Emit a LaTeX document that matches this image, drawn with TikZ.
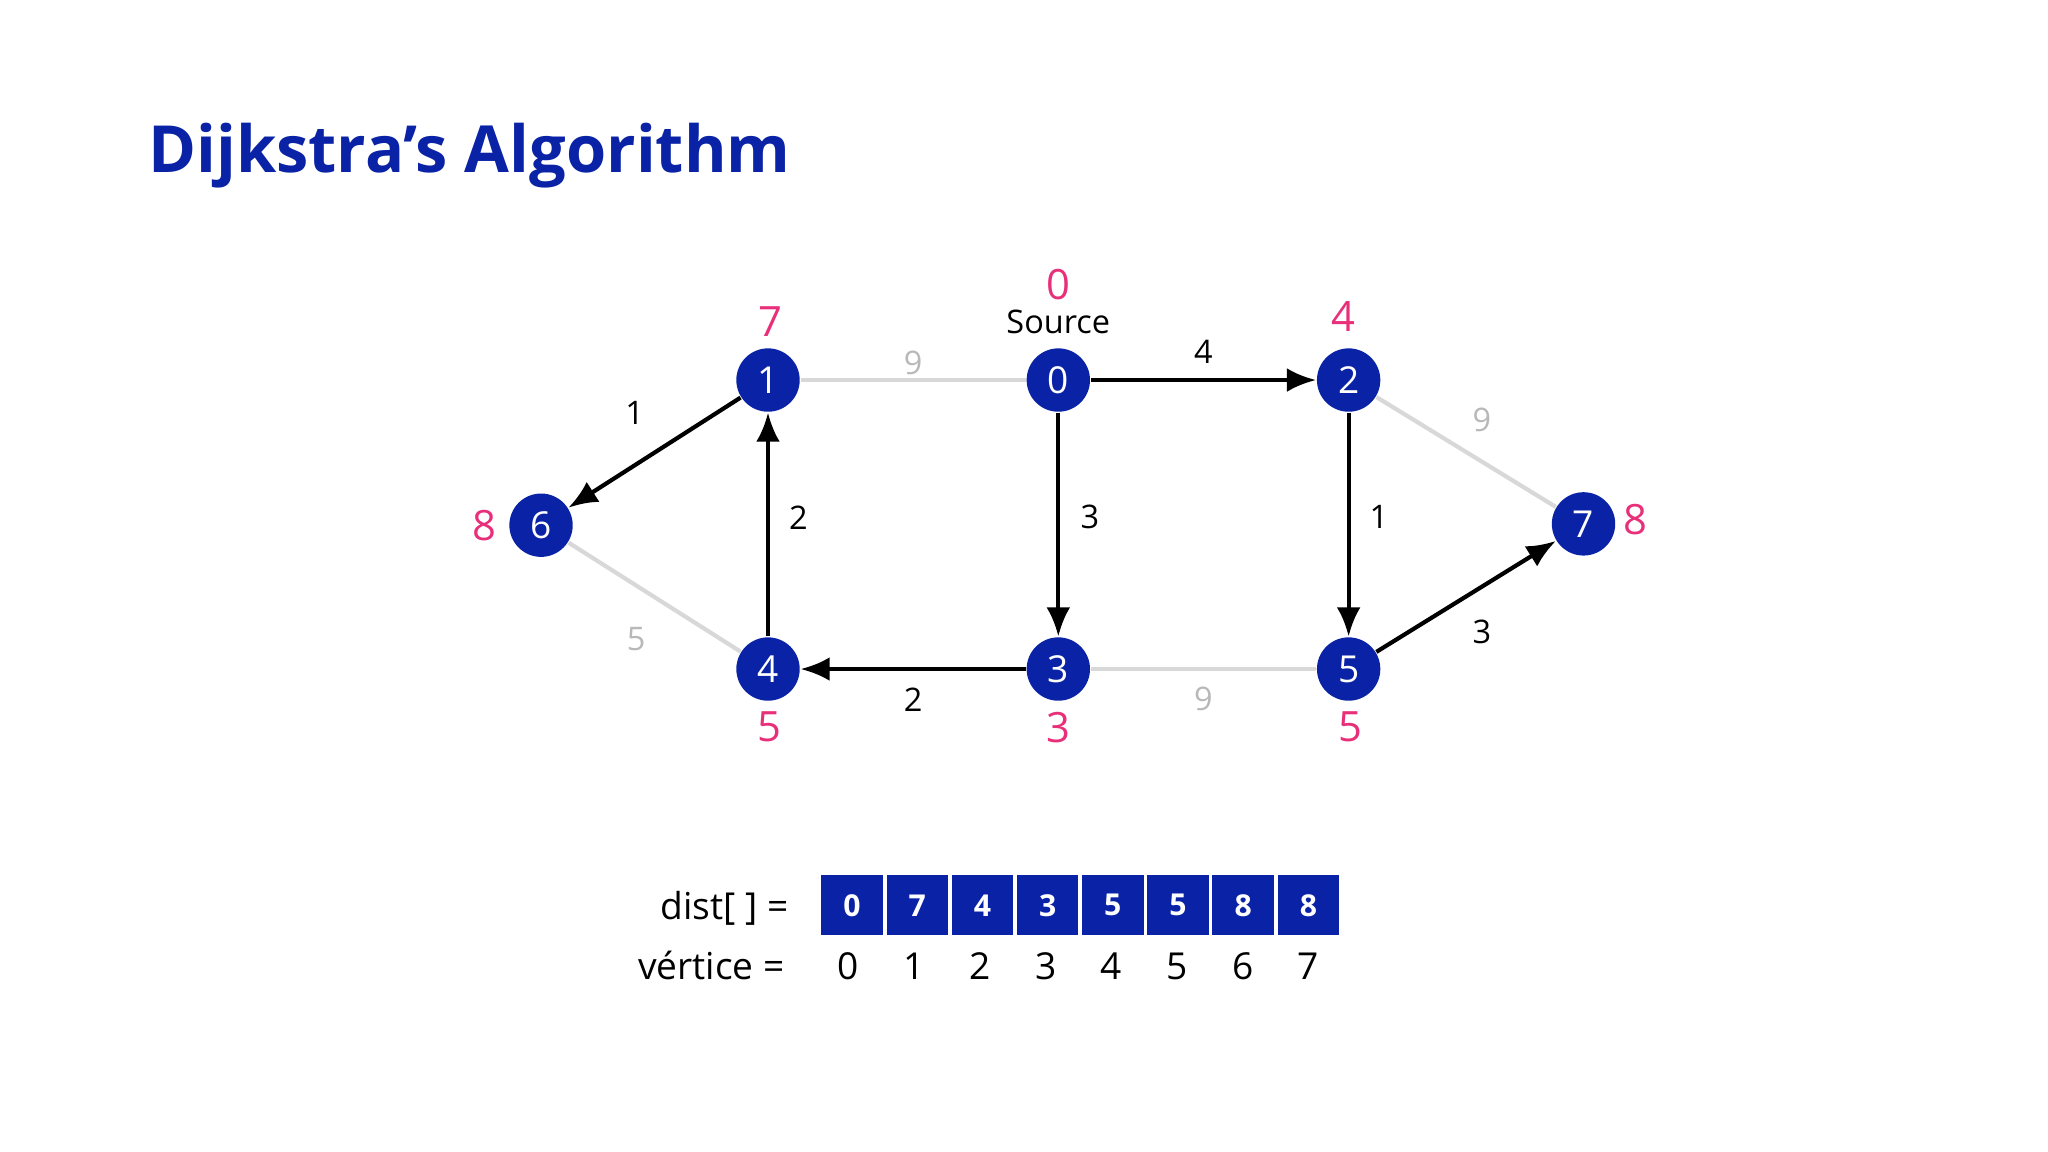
\documentclass[tikz,border=0pt]{standalone}
\usepackage{fontspec}
\setmainfont{Open Sans}
\usetikzlibrary{arrows.meta}
\definecolor{nblue}{HTML}{0A23A6}
\definecolor{npink}{HTML}{E8307A}
\definecolor{egrey}{HTML}{D8D8D8}
\begin{document}
\begin{tikzpicture}[x=0.01cm,y=-0.01cm,
  vert/.style={circle,fill=nblue,text=white,minimum size=0.48cm,inner sep=0pt,font=\fontsize{8}{9}\selectfont},
  gedge/.style={draw=egrey,line width=0.9pt},
  aedge/.style={draw=black,line width=0.9pt,-{Latex[length=2.2mm,width=1.8mm]}},
  glab/.style={text=egrey!85!black,font=\fontsize{7}{8}\selectfont},
  blab/.style={text=black,font=\fontsize{7}{8}\selectfont},
  dlab/.style={text=npink,font=\fontsize{9}{10}\selectfont\rmfamily},
  cell/.style={fill=nblue,draw=white,line width=0.8pt,text=white,minimum width=0.494cm,minimum height=0.48cm,inner sep=0pt,font=\fontsize{6.5}{7}\selectfont\bfseries},
  tlab/.style={font=\fontsize{8}{9}\selectfont,anchor=east}]
\useasboundingbox (0,0) rectangle (1552,873);
\node[anchor=west,text=nblue,font=\fontsize{14}{16}\selectfont\bfseries] (title) at (100,118) {Dijkstra's Algorithm};
\node[vert] (v1) at (582,288) {1};
\node[vert] (v0) at (802,288) {0};
\node[vert] (v2) at (1022,288) {2};
\node[vert] (v6) at (410,398) {6};
\node[vert] (v7) at (1200,397) {7};
\node[vert] (v4) at (582,507) {4};
\node[vert] (v3) at (802,507) {3};
\node[vert] (v5) at (1022,507) {5};
\draw[gedge] (v1) -- (v0);
\draw[gedge] (v2) -- (v7);
\draw[gedge] (v6) -- (v4);
\draw[gedge] (v3) -- (v5);
\draw[aedge] (v0) -- (v2);
\draw[aedge] (v0) -- (v3);
\draw[aedge] (v1) -- (v6);
\draw[aedge] (v4) -- (v1);
\draw[aedge] (v3) -- (v4);
\draw[aedge] (v2) -- (v5);
\draw[aedge] (v5) -- (v7);
\node[glab] (l10) at (692,275) {9};
\node[glab] (l27) at (1123,318) {9};
\node[glab] (l64) at (482,484) {5};
\node[glab] (l35) at (912,530) {9};
\node[blab] (l02) at (912,267) {4};
\node[blab] (l03) at (826,392) {3};
\node[blab] (l16) at (481,313) {1};
\node[blab] (l41) at (605,392) {2};
\node[blab] (l34) at (692,530) {2};
\node[blab] (l25) at (1045,392) {1};
\node[blab] (l57) at (1123,479) {3};
\node[dlab] (d1) at (584,244) {7};
\node[dlab] (d0) at (802,216) {0};
\node[blab] (src) at (802,244) {Source};
\node[dlab] (d2) at (1018,240) {4};
\node[dlab] (d6) at (367,398) {8};
\node[dlab] (d7) at (1239,394) {8};
\node[dlab] (d4) at (583,551) {5};
\node[dlab] (d3) at (802,551) {3};
\node[dlab] (d5) at (1023,551) {5};
\foreach \v [count=\i from 0] in {0,7,4,3,5,5,8,8} {
  \node[cell] (c\i) at (645.7+49.4*\i,686) {\v};
  \node[font=\fontsize{8}{9}\selectfont] (n\i) at (643+49.8*\i,732) {\i};
}
\node[tlab] (dl) at (610,688) {dist[ ] =};
\node[tlab] (vl) at (607,732) {vértice =};
\end{tikzpicture}
\end{document}
